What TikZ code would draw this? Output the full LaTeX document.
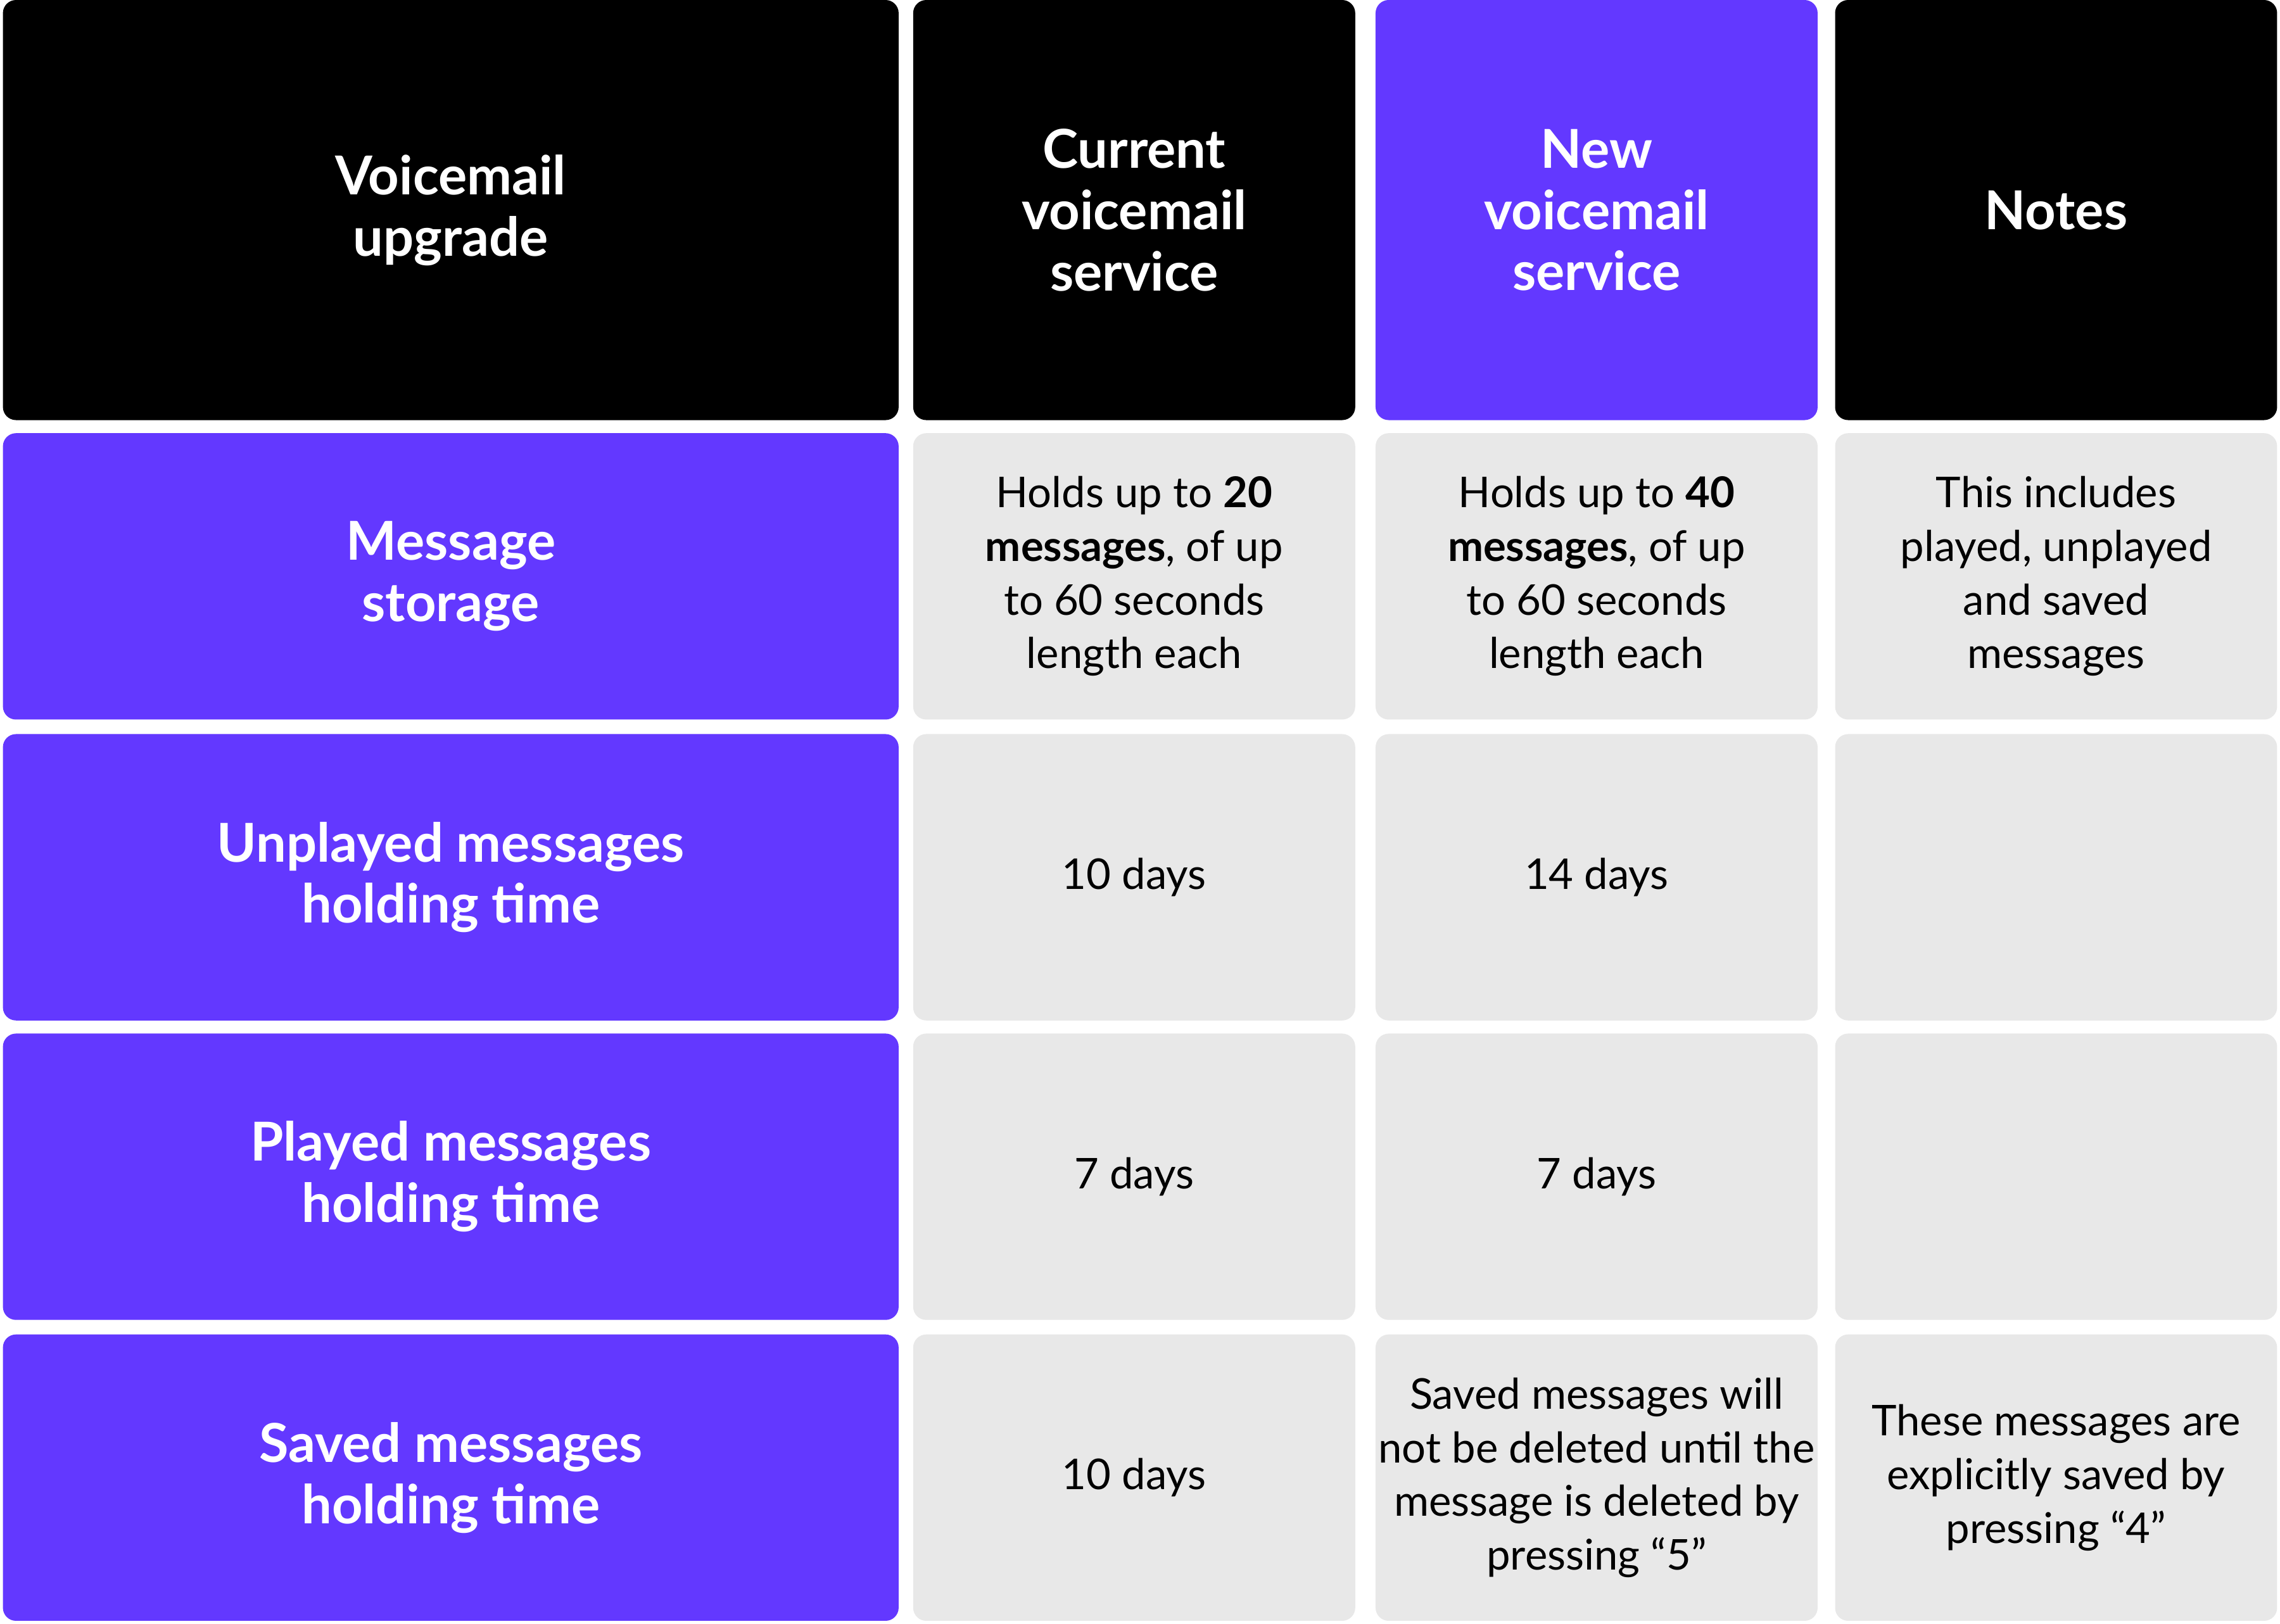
\documentclass[tikz,border=0pt]{standalone}
\usepackage{fontspec}
\setmainfont{Lato}
\usetikzlibrary{positioning}
\definecolor{vmpurple}{RGB}{99,56,255}
\definecolor{vmgrey}{RGB}{232,232,232}
\tikzset{
	cell/.style={rounded corners=0.09cm, inner sep=0pt, align=center},
	wide/.style={minimum width=6.16cm},
	narrow/.style={minimum width=3.04cm},
	head/.style={cell, fill=black, text=white, minimum height=2.89cm,
		font=\bfseries\fontsize{10.5}{12}\selectfont},
	side/.style={cell, wide, fill=vmpurple, text=white, minimum height=1.97cm,
		font=\bfseries\fontsize{10.5}{12}\selectfont},
	body/.style={cell, narrow, fill=vmgrey, text=black, minimum height=1.97cm,
		font=\fontsize{8.3}{10.5}\selectfont},
}
\begin{document}
\begin{tikzpicture}
	\useasboundingbox (0,0) rectangle (15.68,-11.17);
	% header row
	\node[head, wide] (corner) at (3.10,-1.445) {Voicemail\\upgrade};
	\node[head, narrow] (current) at (7.80,-1.445) {Current\\voicemail\\service};
	\node[head, narrow, fill=vmpurple] (new) at (10.98,-1.445) {New\\voicemail\\service};
	\node[head, narrow] (notes) at (14.14,-1.445) {Notes};
	
	% row labels
	\node[side] (storage) at (3.10,-3.965) {Message\\storage};
	\node[side] (unplayed) at (3.10,-6.035) {Unplayed messages\\holding time};
	\node[side] (played) at (3.10,-8.095) {Played messages\\holding time};
	\node[side] (saved) at (3.10,-10.165) {Saved messages\\holding time};
	
	% message storage
	\node[body] (storagecur) at (7.80,-3.965) {Holds up to \textbf{20}\\\textbf{messages}, of up\\to 60 seconds\\length each};
	\node[body] (storagenew) at (10.98,-3.965) {Holds up to \textbf{40}\\\textbf{messages}, of up\\to 60 seconds\\length each};
	\node[body] (storagenote) at (14.14,-3.965) {This includes\\played, unplayed\\and saved\\messages};
	
	% unplayed
	\node[body] (unplayedcur) at (7.80,-6.035) {10 days};
	\node[body] (unplayednew) at (10.98,-6.035) {14 days};
	\node[body] (unplayednote) at (14.14,-6.035) {};
	
	% played
	\node[body] (playedcur) at (7.80,-8.095) {7 days};
	\node[body] (playednew) at (10.98,-8.095) {7 days};
	\node[body] (playednote) at (14.14,-8.095) {};
	
	% saved
	\node[body] (savedcur) at (7.80,-10.165) {10 days};
	\node[body] (savednew) at (10.98,-10.165) {Saved messages will\\not be deleted until the\\message is deleted by\\pressing “5”};
	\node[body] (savednote) at (14.14,-10.165) {These messages are\\explicitly saved by\\pressing “4”};
\end{tikzpicture}
\end{document}
